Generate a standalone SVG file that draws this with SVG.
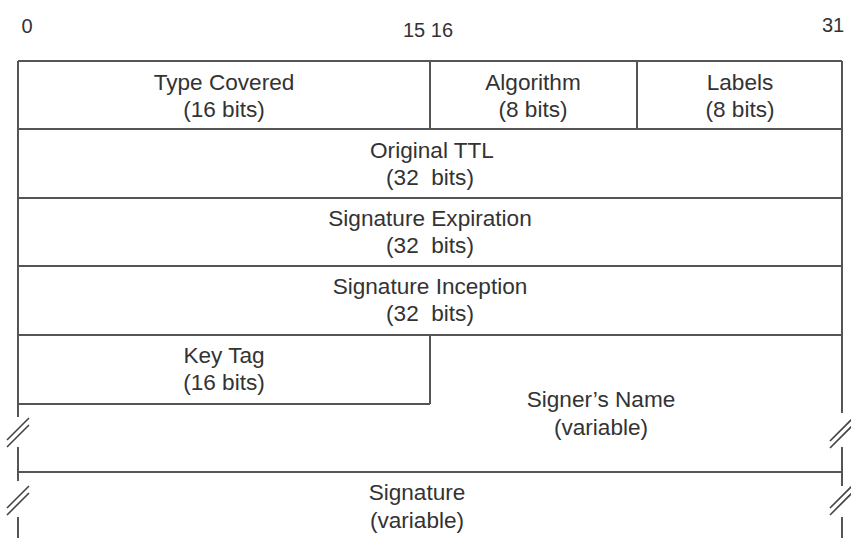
<svg xmlns="http://www.w3.org/2000/svg" width="851" height="538" viewBox="0 0 851 538">
<style>
.l{stroke:#555;stroke-width:2;fill:none}
.s{stroke:#444;stroke-width:1.6;fill:none}
text{font-family:"Liberation Sans",Arial,sans-serif;font-size:22.6px;fill:#333;text-anchor:middle;white-space:pre}
</style>
<rect width="851" height="538" fill="#fff"/>
<g id="bits">
<text x="27" y="33" style="font-size:20px">0</text>
<text x="428" y="37" style="font-size:20px">15 16</text>
<text x="833" y="32" style="font-size:20px">31</text>
</g>
<g id="frame">
<path class="l" d="M18 61H842M18 129H842M18 198H842M18 266H842M18 335H842M18 404H430M18 472H842"/>
<path class="l" d="M430 61V129M637 61V129M430 335V404"/>
<path class="l" d="M18 61V417M18 447V481M18 517V538"/>
<path class="l" d="M842 61V413M842 447V486M842 517V538"/>
<path class="s" d="M7 440L29 418M7 447L29 425M7 508L29 486M7 515L29 493"/>
<path class="s" d="M830 441L852 419M830 448L852 426M830 508L852 486M830 515L852 493"/>
</g>
<g id="type-covered"><text x="224" y="90">Type Covered</text><text x="224" y="117">(16 bits)</text></g>
<g id="algorithm"><text x="533" y="90">Algorithm</text><text x="533" y="117">(8 bits)</text></g>
<g id="labels"><text x="740" y="90">Labels</text><text x="740" y="117">(8 bits)</text></g>
<g id="original-ttl"><text x="432" y="158">Original TTL</text><text x="430" y="185">(32  bits)</text></g>
<g id="sig-exp"><text x="430" y="226">Signature Expiration</text><text x="430" y="253">(32  bits)</text></g>
<g id="sig-inc"><text x="430" y="294">Signature Inception</text><text x="430" y="321">(32  bits)</text></g>
<g id="key-tag"><text x="224" y="363">Key Tag</text><text x="224" y="390">(16 bits)</text></g>
<g id="signers-name"><text x="601" y="407">Signer’s Name</text><text x="601" y="435">(variable)</text></g>
<g id="signature"><text x="417" y="500">Signature</text><text x="417" y="528">(variable)</text></g>
</svg>
